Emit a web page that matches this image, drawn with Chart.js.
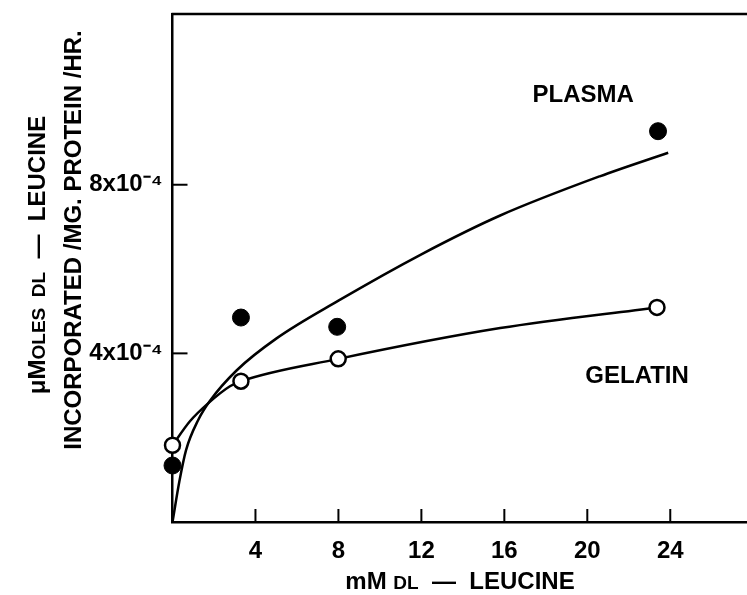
<!DOCTYPE html>
<html><head><meta charset="utf-8">
<script src="https://cdn.jsdelivr.net/npm/chart.js@4/dist/chart.umd.min.js"></script>
<style>html,body{margin:0;padding:0;background:#fff}canvas{display:block}</style>
</head><body>
<canvas id="c" width="747" height="595"></canvas>
<script>
// ---- data (y in units of 10^-4 µmoles) ----
const plasmaX = [0, 3.3, 7.94, 23.41];
const plasmaY = [1.34, 4.85, 4.63, 9.27];
const gelatinX = [0, 3.3, 7.99, 23.36];
const gelatinY = [1.82, 3.34, 3.87, 5.09];
const plasmaCurveX = [0, 0.33, 0.65, 1.24, 1.8, 3.1, 5, 8, 12, 15.8, 20.6, 23.9];
const plasmaCurveY = [0, 0.96, 1.7, 2.42, 2.87, 3.6, 4.35, 5.25, 6.35, 7.27, 8.2, 8.76];
const gelatinCurveX = [0, 0.84, 1.73, 2.77, 3.3, 8, 15.8, 23.36];
const gelatinCurveY = [1.82, 2.39, 2.82, 3.22, 3.34, 3.87, 4.6, 5.09];
const xTickValues = [4, 8, 12, 16, 20, 24];
const yTickValues = [4, 8];
const yTickLabels = ['4x10\u207B\u2074', '8x10\u207B\u2074'];
const seriesNames = ['PLASMA', 'GELATIN'];

const FONT = '"Liberation Sans", Arial, sans-serif';
const pts = (xs, ys) => xs.map((x, i) => ({x, y: ys[i]}));

function drawSegs(ctx, segs, cx, cy, rot) {
  ctx.save();
  ctx.translate(cx, cy);
  ctx.rotate(rot);
  ctx.fillStyle = '#000';
  ctx.textBaseline = 'alphabetic';
  ctx.textAlign = 'left';
  let total = 0;
  segs.forEach(s => { ctx.font = `bold ${s.size}px ${FONT}`; s.w = ctx.measureText(s.t).width; total += s.w; });
  let x = -total / 2;
  segs.forEach(s => { ctx.font = `bold ${s.size}px ${FONT}`; ctx.fillText(s.t, x, 8.5); x += s.w; });
  ctx.restore();
}

const decor = {
  id: 'decor',
  afterDraw(chart) {
    const {ctx, chartArea: a, scales: {x, y}} = chart;
    ctx.save();
    ctx.strokeStyle = '#000';
    ctx.lineWidth = 2.5;
    ctx.lineCap = 'butt';
    // top frame
    ctx.beginPath(); ctx.moveTo(a.left - 1, a.top); ctx.lineTo(a.right, a.top); ctx.stroke();
    // inward ticks
    ctx.lineWidth = 2;
    xTickValues.forEach(v => { const p = x.getPixelForValue(v); ctx.beginPath(); ctx.moveTo(p, a.bottom); ctx.lineTo(p, a.bottom - 13); ctx.stroke(); });
    yTickValues.forEach(v => { const p = y.getPixelForValue(v); ctx.beginPath(); ctx.moveTo(a.left, p); ctx.lineTo(a.left + 15, p); ctx.stroke(); });
    ctx.restore();
    // y title (two lines)
    drawSegs(ctx, [{t:'\u03BCM', size:24}, {t:'OLES  DL', size:19}, {t:'  \u2014  LEUCINE', size:24}], 36, 255, -Math.PI/2);
    drawSegs(ctx, [{t:'INCORPORATED /MG. PROTEIN /HR.', size:24}], 72, 240, -Math.PI/2);
    // x title
    drawSegs(ctx, [{t:'mM ', size:24}, {t:'DL', size:19}, {t:'  \u2014  LEUCINE', size:24}], 460, 580, 0);
    // series labels
    drawSegs(ctx, [{t:seriesNames[0], size:24}], x.getPixelForValue(19.8), y.getPixelForValue(10.17), 0);
    drawSegs(ctx, [{t:seriesNames[1], size:24}], x.getPixelForValue(22.4), y.getPixelForValue(3.5), 0);
  }
};

const noPad = s => { s.paddingTop = 0; s.paddingBottom = 0; s.paddingLeft = 0; s.paddingRight = 0; };

new Chart(document.getElementById('c'), {
  type: 'scatter',
  data: {
    datasets: [
      {label: seriesNames[0] + ' data', data: pts(plasmaX, plasmaY), showLine: false, pointRadius: 8.5, pointBackgroundColor: '#000', pointBorderColor: '#000', pointBorderWidth: 1, clip: false},
      {label: seriesNames[1] + ' data', data: pts(gelatinX, gelatinY), showLine: false, pointRadius: 7.5, pointBackgroundColor: '#fff', pointBorderColor: '#000', pointBorderWidth: 2.5, clip: false},
      {label: seriesNames[0] + ' curve', data: pts(plasmaCurveX, plasmaCurveY), showLine: true, pointRadius: 0, borderColor: '#000', borderWidth: 2.5, cubicInterpolationMode: 'monotone', clip: false},
      {label: seriesNames[1] + ' curve', data: pts(gelatinCurveX, gelatinCurveY), showLine: true, pointRadius: 0, borderColor: '#000', borderWidth: 2.5, cubicInterpolationMode: 'monotone', clip: false}
    ]
  },
  options: {
    responsive: false,
    animation: false,
    layout: {autoPadding: false, padding: {top: 14, left: 0, right: 0, bottom: 0}},
    plugins: {legend: {display: false}, tooltip: {enabled: false}},
    scales: {
      x: {
        type: 'linear', min: 0, max: 27.7,
        afterFit: s => { s.height = 73; noPad(s); },
        grid: {display: false, drawTicks: false},
        border: {display: true, color: '#000', width: 2.5},
        afterBuildTicks: s => { s.ticks = xTickValues.map(v => ({value: v})); },
        ticks: {color: '#000', padding: 15, font: {family: FONT, size: 24, weight: 'bold'}, maxRotation: 0, callback: v => String(v)}
      },
      y: {
        type: 'linear', min: 0, max: 12.05,
        afterFit: s => { s.width = 172.5; noPad(s); },
        grid: {display: false, drawTicks: false},
        border: {display: true, color: '#000', width: 2.5},
        afterBuildTicks: s => { s.ticks = yTickValues.map(v => ({value: v})); },
        ticks: {color: '#000', padding: 10, font: {family: FONT, size: 24, weight: 'bold'}, callback: (v) => yTickLabels[yTickValues.indexOf(v)]}
      }
    }
  },
  plugins: [decor]
});
</script>
</body></html>
